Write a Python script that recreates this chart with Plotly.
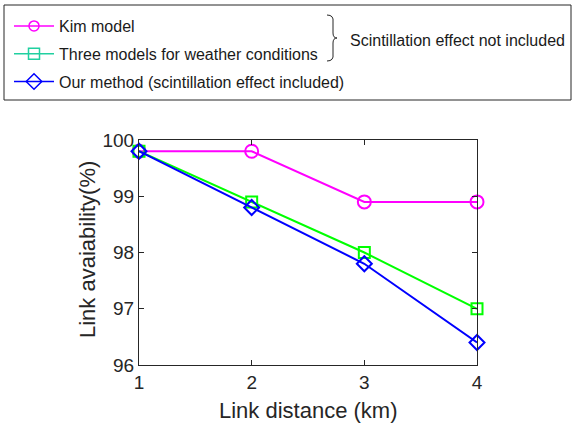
import plotly.graph_objects as go

# ---- data ----
distance_km = [1, 2, 3, 4]
kim_model = [99.8, 99.8, 98.9, 98.9]
three_models = [99.8, 98.9, 98.0, 97.0]
our_method = [99.8, 98.8, 97.8, 96.4]

x_ticks = [1, 2, 3, 4]
y_ticks = [96, 97, 98, 99, 100]

legend_names = ["Kim model", "Three models for weather conditions",
                "Our method (scintillation effect included)"]
bracket_text = "Scintillation effect not included"
x_title = "Link distance (km)"
y_title = "Link avaiability(%)"

W, H = 573, 426
ML, MR, MT, MB = 139, 96, 140, 61
PW, PH = W - ML - MR, H - MT - MB

def px(x):
    return (x - ML) / PW

def py(y):
    return (H - MB - y) / PH

FONT = "Arial, Liberation Sans, sans-serif"
TXT = "#262626"

fig = go.Figure()

series = [
    (kim_model, "#ff00ff", "#ff00ff", "circle-open", 13, 10),
    (three_models, "#00ff00", "#20d0a0", "square-open", 11, 11),
    (our_method, "#0000ff", "#0000ff", "diamond-open", 11.5, 12),
]

for (vals, col, legcol, sym, size, lsize), name in zip(series, legend_names):
    fig.add_trace(go.Scatter(
        x=distance_km, y=vals, mode="lines+markers",
        line=dict(color=col, width=2),
        marker=dict(symbol=sym, size=size, color=col, line=dict(color=col, width=2)),
        cliponaxis=False, showlegend=False, name=name,
    ))

for i, ((vals, col, legcol, sym, size, lsize), name) in enumerate(zip(series, legend_names)):
    fig.add_trace(go.Scatter(
        x=[None], y=[None], mode="lines+markers", name=name,
        legendgroup=f"g{i}",
        line=dict(color=legcol, width=1.5),
        marker=dict(symbol=sym, size=lsize, color=legcol,
                    line=dict(color=legcol, width=1.5)),
    ))

# outer legend frame
fig.add_shape(type="rect", xref="paper", yref="paper",
              x0=px(4), x1=px(571), y0=py(100), y1=py(5),
              line=dict(color="#262626", width=1), fillcolor="rgba(0,0,0,0)")

# brace
path = (f"M {px(327)},{py(15)} Q {px(334)},{py(15)} {px(333)},{py(22)} "
        f"L {px(333)},{py(33)} Q {px(333)},{py(38)} {px(337)},{py(38)} "
        f"Q {px(333)},{py(38)} {px(333)},{py(43)} "
        f"L {px(333)},{py(54)} Q {px(334)},{py(61)} {px(327)},{py(61)}")
fig.add_shape(type="path", xref="paper", yref="paper", path=path,
              line=dict(color="#262626", width=1))

fig.add_annotation(xref="paper", yref="paper", x=px(348), y=py(40),
                   xanchor="left", yanchor="middle", showarrow=False,
                   text=bracket_text, font=dict(family=FONT, size=16, color="#1a1a1a"))

# axis titles
fig.add_annotation(xref="paper", yref="paper", x=0.5, y=py(410),
                   xanchor="center", yanchor="middle", showarrow=False,
                   text=x_title, font=dict(family=FONT, size=22, color=TXT))
fig.add_annotation(xref="paper", yref="paper", x=px(87), y=py(250),
                   xanchor="center", yanchor="middle", showarrow=False, textangle=-90,
                   text=y_title, font=dict(family=FONT, size=22, color=TXT))

axis_common = dict(
    showline=True, linecolor="#262626", linewidth=1, mirror="ticks",
    ticks="inside", ticklen=5, tickcolor="#262626", tickwidth=1,
    showgrid=False, zeroline=False,
    tickfont=dict(family=FONT, size=19, color=TXT),
)

fig.update_xaxes(range=[1, 4], tickvals=x_ticks, **axis_common)
fig.update_yaxes(range=[96, 100], tickvals=y_ticks, **axis_common)

fig.update_layout(
    width=W, height=H,
    margin=dict(l=ML, r=MR, t=MT, b=MB, autoexpand=False),
    paper_bgcolor="white", plot_bgcolor="white",
    showlegend=True,
    legend=dict(xref="container", yref="container", x=9 / W, y=1 - 9 / H,
                xanchor="left", yanchor="top", bgcolor="rgba(0,0,0,0)",
                borderwidth=0, itemwidth=40, traceorder="grouped", tracegroupgap=4,
                font=dict(family=FONT, size=16, color="#1a1a1a")),
)

fig.write_html("out.html")
